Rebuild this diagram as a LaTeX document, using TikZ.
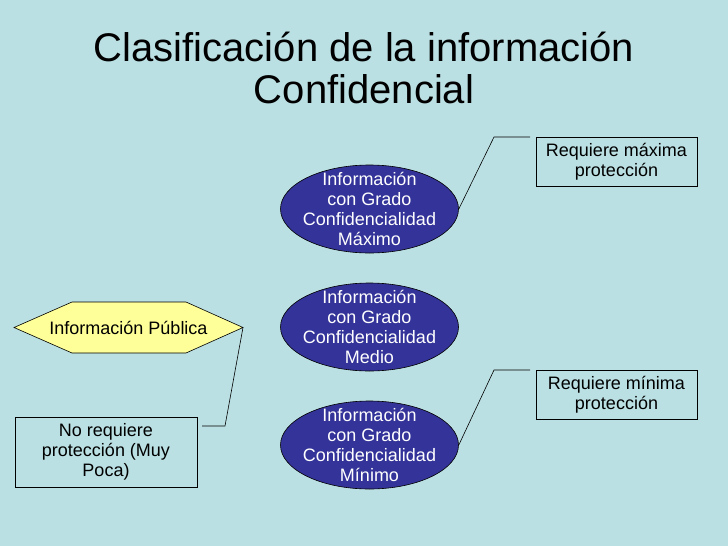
\documentclass[tikz,border=0pt]{standalone}
\usepackage{fontspec}
\setmainfont{Liberation Sans}
\usetikzlibrary{shapes.geometric}
\definecolor{bg}{HTML}{BBE0E3}
\definecolor{ellblue}{HTML}{333399}
\definecolor{hexyellow}{HTML}{FFFF99}
\tikzset{
  body/.style={font=\fontsize{18}{20.3}\selectfont, align=center},
  ell/.style={ellipse, draw=black, line width=0.6pt, fill=ellblue,
    minimum width=178, minimum height=88, inner sep=0pt},
  elltext/.style={body, text=white, inner sep=0pt},
  infobox/.style={body, rectangle, draw=black, line width=0.8pt, inner sep=0pt},
  callout/.style={draw=black, line width=0.6pt},
  titletext/.style={font=\fontsize{40}{39}\selectfont, anchor=base},
}
\begin{document}
\begin{tikzpicture}[x=1pt,y=-1pt]
\fill[bg] (0,0) rectangle (728,546);
\useasboundingbox (0,0) rectangle (728,546);

\node[titletext] (t1) at (364,61) {Clasificación de la información};
\node[titletext] (t2) at (364,103) {Confidencial};

\node[ell] (emax) at (369.5,209) {};
\node[elltext] (tmax) at (emax.center) {Información\\con Grado\\Confidencialidad\\Máximo};
\node[ell] (emed) at (369.5,327) {};
\node[elltext] (tmed) at (emed.center) {Información\\con Grado\\Confidencialidad\\Medio};
\node[ell] (emin) at (369.5,445) {};
\node[elltext] (tmin) at (emin.center) {Información\\con Grado\\Confidencialidad\\Mínimo};

\draw[fill=hexyellow, draw=black, line width=0.6pt]
  (14,327.5) coordinate (hl) -- (72,302) -- (186,302) -- (243,327.5) coordinate (hr)
  -- (186,353) -- (72,353) -- cycle;
\node[body] (pub) at (128.5,327.5) {Información Pública};

\node[infobox, minimum width=161, minimum height=49] (rmax) at (616.5,161.5) {Requiere máxima\\protección};
\node[infobox, minimum width=161, minimum height=49] (rmin) at (616.5,394.5) {Requiere mínima\\protección};
\node[infobox, minimum width=182, minimum height=70] (rno) at (106,452) {No requiere\\protección (Muy\\Poca)};

\coordinate (c1a) at (494,137);
\coordinate (c1b) at (530,137);
\coordinate (c2a) at (494,370);
\coordinate (c2b) at (530,370);
\coordinate (c3a) at (225,426);
\coordinate (c3b) at (202,426);

\draw[callout] (emax.east) -- (c1a) -- (c1b);
\draw[callout] (emin.east) -- (c2a) -- (c2b);
\draw[callout] (hr) -- (c3a) -- (c3b);
\end{tikzpicture}
\end{document}
